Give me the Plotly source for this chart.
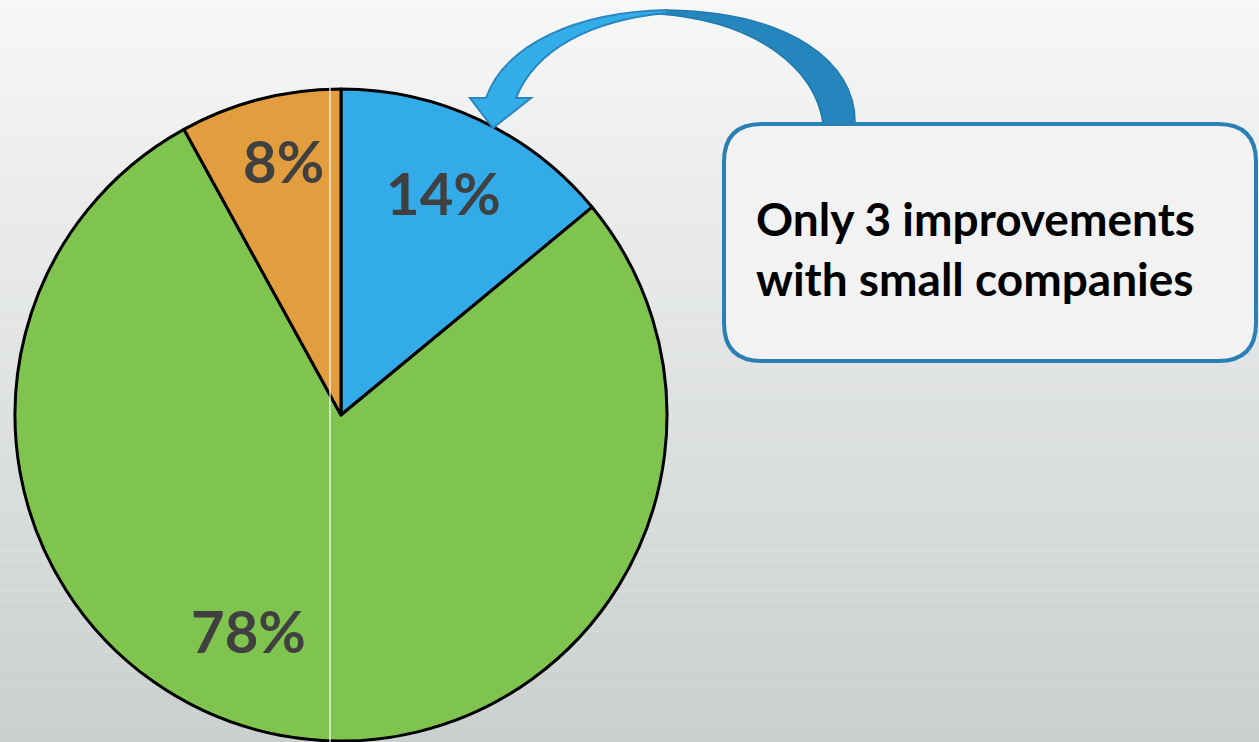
import plotly.graph_objects as go

# ---- data ----
categories = ["Improvements with small companies", "Other improvements", "No improvement"]
shares = [14, 78, 8]

# ---- style / layout ----
W, H = 1259, 742
slice_colors = ["#33abe9", "#80c450", "#e29d3e"]
label_xy = [(443, 192), (248, 630), (283, 160)]   # pixel positions of slice labels
label_font = dict(family="Lato", size=58, color="#404040", weight="bold")
cx, cy, R = 341, 415, 326

fig = go.Figure()
fig.add_trace(go.Pie(
    labels=categories, values=shares, sort=False, direction="clockwise", rotation=0,
    marker=dict(colors=slice_colors, line=dict(color="black", width=3)),
    textinfo="none", hoverinfo="label+percent", showlegend=False,
    domain=dict(x=[(cx - R) / W, (cx + R) / W], y=[(H - (cy + R)) / H, (H - (cy - R)) / H]),
))

shapes = []
# background vertical gradient
top = (246, 247, 247)
bot = (203, 207, 208)
n = 74
for i in range(n):
    t = i / (n - 1)
    c = tuple(int(round(top[k] + (bot[k] - top[k]) * t)) for k in range(3))
    shapes.append(dict(type="rect", xref="paper", yref="paper", x0=0, x1=1,
                       y0=1 - (i + 1) / n, y1=1 - i / n, layer="below",
                       line=dict(width=0), fillcolor="rgb(%d,%d,%d)" % c))

# thin white vertical line artifact
shapes.append(dict(type="line", xref="x", yref="y", x0=330, x1=330, y0=88, y1=742,
                   line=dict(color="white", width=1.2), layer="above"))

# curved arrow - dark back part
shapes.append(dict(type="path", xref="x", yref="y", layer="above",
                   path="M 823,123 C 815,70 760,22 660,14 L 667,10 C 790,12 856,62 855,123 Z",
                   fillcolor="#2585bd", line=dict(color="#2279ad", width=1.5)))
# curved arrow - light front part with head
shapes.append(dict(type="path", xref="x", yref="y", layer="above",
                   path="M 667,10 C 575,12 505,45 486,98 L 470,98 L 493,128 L 531,98 L 516,98 "
                        "C 535,50 590,20 667,13 Z",
                   fillcolor="#33aee9", line=dict(color="#2a86c0", width=2)))

# callout box (rounded rect)
x0, x1, y0, y1, r = 724, 1256, 124, 361, 38
box = (f"M {x0+r},{y0} L {x1-r},{y0} Q {x1},{y0} {x1},{y0+r} L {x1},{y1-r} "
       f"Q {x1},{y1} {x1-r},{y1} L {x0+r},{y1} Q {x0},{y1} {x0},{y1-r} "
       f"L {x0},{y0+r} Q {x0},{y0} {x0+r},{y0} Z")
shapes.append(dict(type="path", xref="x", yref="y", layer="above", path=box,
                   fillcolor="#f2f2f2", line=dict(color="#2a7fb3", width=4)))

annotations = []
for (lx, ly), v in zip(label_xy, shares):
    annotations.append(dict(x=lx, y=ly, xref="x", yref="y", text=f"{v}%", showarrow=False,
                            font=label_font, xanchor="center", yanchor="middle"))
annotations.append(dict(x=754, y=248, xref="x", yref="y", xanchor="left", yanchor="middle",
                        align="left", showarrow=False,
                        text="Only 3 improvements<br>with small companies",
                        font=dict(family="Lato", size=46, color="black", weight="bold")))

fig.update_layout(
    width=W, height=H, margin=dict(l=0, r=0, t=0, b=0),
    paper_bgcolor="#eeeeee", plot_bgcolor="rgba(0,0,0,0)",
    xaxis=dict(range=[0, W], visible=False, fixedrange=True),
    yaxis=dict(range=[H, 0], visible=False, fixedrange=True),
    shapes=shapes, annotations=annotations,
)
fig.write_html("out.html", config={"displayModeBar": False},
               post_script="document.body.style.margin='0';document.body.style.overflow='hidden';")
